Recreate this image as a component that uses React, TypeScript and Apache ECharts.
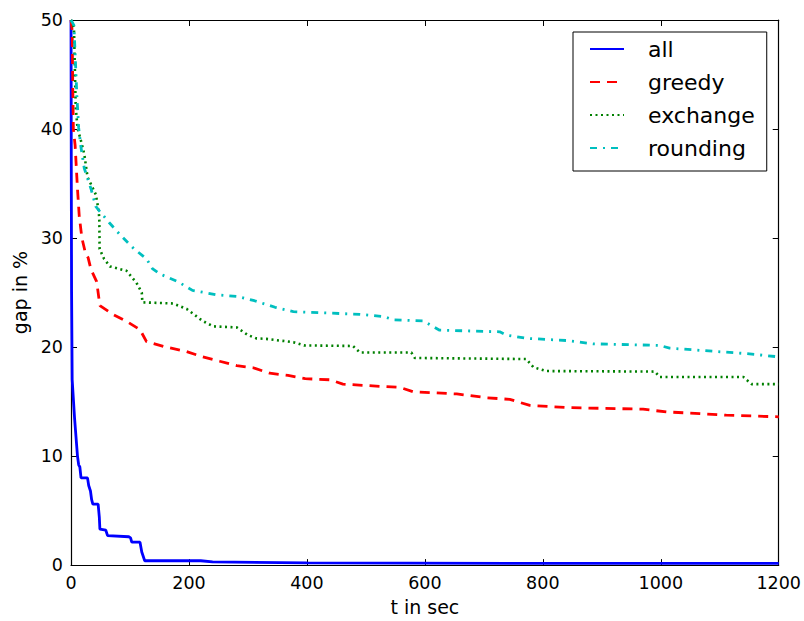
import React, { useEffect, useRef } from "react";
import * as echarts from "echarts";

const seriesNames = ["all", "greedy", "exchange", "rounding"];

const allData = [
  [0, 50], [0.5, 35], [1, 25], [2, 17], [6, 13.5], [11, 10], [13, 9.2], [15, 9.0],
  [17, 8.0], [28, 8.0], [30, 7.3], [33, 6.8], [35, 6.0], [37, 5.6], [46, 5.6],
  [48, 4.4], [49, 3.3], [59, 3.2], [62, 2.7], [98, 2.6], [101, 2.5], [103, 2.1],
  [117, 2.1], [120, 1.2], [125, 0.4], [220, 0.4], [240, 0.3], [400, 0.2],
  [800, 0.15], [1200, 0.15],
];

const greedyData = [
  [0, 50], [2, 49], [3, 44], [4, 40], [7, 38.5], [11, 34.5], [14, 32], [18.5, 30],
  [25, 28.5], [29, 28.2], [34, 27.1], [43.5, 26], [49, 23.8], [71, 23.0], [93, 22.4],
  [117, 21.6], [128, 20.5], [161, 20.0], [195, 19.6], [223, 19.1], [252, 18.7],
  [281, 18.3], [309, 18.1], [337, 17.6], [368, 17.4], [397, 17.1], [439, 17.0],
  [461, 16.6], [524, 16.4], [558, 16.3], [580, 15.9], [654, 15.7], [705, 15.35],
  [744, 15.2], [778, 14.65], [840, 14.45], [970, 14.3], [1010, 14.05], [1066, 13.9],
  [1111, 13.75], [1200, 13.6],
];

const exchangeData = [
  [0, 50], [5, 49.3], [8, 42], [11, 40.1], [17, 38.9], [22.5, 37.7], [28, 35.6],
  [42, 34.0], [47, 32.5], [48, 31.7], [48.5, 29.0], [56, 28.1], [66, 27.4], [94, 27.0],
  [111, 25.9], [120, 25.0], [121, 24.1], [173, 24.0], [196, 23.5], [223, 22.4],
  [241, 21.9], [281, 21.8], [300, 21.1], [314, 20.8], [331, 20.75], [377, 20.45],
  [395, 20.15], [478, 20.1], [490, 19.5], [577, 19.5], [583, 19.0], [772, 18.9],
  [784, 18.15], [806, 17.8], [990, 17.75], [998, 17.25], [1140, 17.25], [1154, 16.6],
  [1200, 16.6],
];

const roundingData = [
  [0, 50], [5, 49.5], [10, 43], [13, 40.1], [17, 38.3], [22.5, 36.4], [34, 34.5],
  [42, 32.9], [48, 32.5], [65, 31.4], [85, 30.2], [107, 29.0], [128, 28.1],
  [138, 27.2], [151, 26.7], [181, 26.0], [206, 25.2], [246, 24.8], [281, 24.65],
  [311, 24.25], [346, 23.65], [377, 23.25], [490, 23.0], [530, 22.8], [547, 22.5],
  [597, 22.4], [625, 21.55], [727, 21.4], [738, 21.1], [772, 20.8], [840, 20.6],
  [885, 20.3], [998, 20.15], [1015, 19.9], [1066, 19.7], [1145, 19.4], [1200, 19.1],
];

const xTicks = { min: 0, max: 1200, interval: 200 };
const yTicks = { min: 0, max: 50, interval: 10 };

const FONT = "DejaVu Sans";

export default function App() {
  const ref = useRef<HTMLDivElement>(null);
  useEffect(() => {
    if (!ref.current) return;
    const chart = echarts.init(ref.current, undefined, { renderer: "svg" });
    const axisCommon = {
      axisLine: { show: true, onZero: false, lineStyle: { color: "#000", width: 1.2 } },
      axisTick: { show: true, inside: true, length: 6, lineStyle: { color: "#000", width: 1 } },
      splitLine: { show: false },
    };
    const labelStyle = {
      color: "#000", fontSize: 17.5, fontFamily: FONT,
      formatter: (v: number) => String(v),
    };
    chart.setOption({
      animation: false,
      backgroundColor: "#fff",
      grid: { left: 71, right: 25, top: 20, bottom: 54, containLabel: false },
      xAxis: [
        {
          type: "value", ...xTicks, position: "bottom", ...axisCommon,
          axisLabel: { ...labelStyle, margin: 9 },
          name: "t in sec", nameLocation: "middle", nameGap: 30,
          nameTextStyle: { color: "#000", fontSize: 19, fontFamily: FONT },
        },
        {
          type: "value", ...xTicks, position: "top", ...axisCommon,
          axisLabel: { show: false },
        },
      ],
      yAxis: [
        {
          type: "value", ...yTicks, position: "left", ...axisCommon,
          axisLabel: { ...labelStyle, margin: 8 },
          name: "gap in %", nameLocation: "middle", nameGap: 38,
          nameTextStyle: { color: "#000", fontSize: 19, fontFamily: FONT },
        },
        {
          type: "value", ...yTicks, position: "right", ...axisCommon,
          axisLabel: { show: false },
        },
      ],
      legend: {
        orient: "vertical",
        left: 573,
        top: 32,
        padding: [6, 12, 12, 16],
        itemWidth: 34,
        itemHeight: 14,
        itemGap: 11,
        borderColor: "#000",
        borderWidth: 1,
        backgroundColor: "#fff",
        data: seriesNames,
        itemStyle: { opacity: 0 },
        textStyle: { color: "#000", fontSize: 22, fontFamily: FONT, padding: [0, 0, 0, 19] },
      },
      series: [
        {
          name: seriesNames[0], type: "line", data: allData, symbol: "none",
          lineStyle: { color: "#0000ff", width: 2.8, type: "solid" },
          itemStyle: { color: "#0000ff" },
        },
        {
          name: seriesNames[1], type: "line", data: greedyData, symbol: "none",
          lineStyle: { color: "#ff0000", width: 2.8, type: [10, 7] },
          itemStyle: { color: "#ff0000" },
        },
        {
          name: seriesNames[2], type: "line", data: exchangeData, symbol: "none",
          lineStyle: { color: "#008000", width: 2.6, type: [2, 3.5] },
          itemStyle: { color: "#008000" },
        },
        {
          name: seriesNames[3], type: "line", data: roundingData, symbol: "none",
          lineStyle: { color: "#00bfbf", width: 2.8, type: [7, 6, 2, 6] },
          itemStyle: { color: "#00bfbf" },
        },
      ],
    });
    return () => chart.dispose();
  }, []);
  return <div ref={ref} style={{ width: 804, height: 621, position: "absolute", left: 0, top: 0 }} />;
}
